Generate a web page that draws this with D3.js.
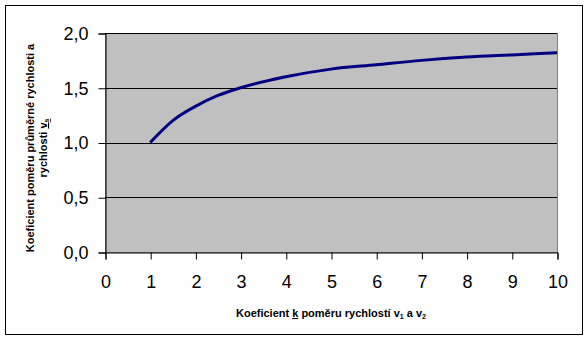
<!DOCTYPE html>
<html>
<head>
<meta charset="utf-8">
<script src="https://d3js.org/d3.v7.min.js"></script>
<style>
  body { margin: 0; background: #fff; }
  svg { display: block; font-family: Arial, "Liberation Sans", sans-serif; }
  .tick text { font-size: 18px; fill: #000; }
  .title { font-size: 11px; font-weight: bold; }
</style>
</head>
<body>
<svg width="587" height="340"></svg>
<script>
// values
const kValues = [1, 1.5, 2, 2.5, 3, 4, 5, 6, 7, 8, 9, 10];
const ratioValues = [1.00, 1.20, 1.33, 1.43, 1.50, 1.60, 1.67, 1.71, 1.75, 1.78, 1.80, 1.82];
const xTicks = [0, 1, 2, 3, 4, 5, 6, 7, 8, 9, 10];
const yTicks = [0, 0.5, 1, 1.5, 2];

const data = kValues.map((k, i) => ({ k: k, v: ratioValues[i] }));

const svg = d3.select("svg");
const plot = { left: 105, top: 33, right: 557, bottom: 252 };

svg.append("rect")
   .attr("x", 5.5).attr("y", 5.5)
   .attr("width", 577).attr("height", 329)
   .attr("fill", "#fff").attr("stroke", "#000");

const x = d3.scaleLinear().domain([0, 10]).range([plot.left, plot.right]);
const y = d3.scaleLinear().domain([0, 2]).range([plot.bottom, plot.top]);

// plot area
svg.append("rect")
   .attr("x", plot.left + 0.5).attr("y", plot.top + 0.5)
   .attr("width", plot.right - plot.left).attr("height", plot.bottom - plot.top)
   .attr("fill", "#c0c0c0").attr("stroke", "#808080");

// gridlines
svg.append("g")
   .selectAll("line")
   .data(yTicks.filter(d => d > 0))
   .enter().append("line")
   .attr("x1", plot.left).attr("x2", plot.right)
   .attr("y1", d => Math.round(y(d)) + 0.5).attr("y2", d => Math.round(y(d)) + 0.5)
   .attr("stroke", "#000");

// axes
const yAxis = svg.append("g")
   .attr("transform", `translate(${plot.left + 0.5},0.5)`)
   .call(d3.axisLeft(y).tickValues(yTicks).tickSize(7).tickPadding(10)
         .tickFormat(d => d3.format(".1f")(d).replace(".", ",")));
yAxis.select(".domain").attr("stroke", "#000");

const xAxis = svg.append("g")
   .attr("transform", `translate(0.5,${plot.bottom + 0.5})`)
   .call(d3.axisBottom(x).tickValues(xTicks).tickSize(7).tickPadding(16));
xAxis.select(".domain").attr("stroke", "#000");

svg.selectAll(".tick line").attr("stroke", "#000");

// curve
const line = d3.line()
   .x(d => x(d.k))
   .y(d => y(d.v))
   .curve(d3.curveMonotoneX);

svg.append("path")
   .datum(data)
   .attr("d", line)
   .attr("fill", "none")
   .attr("stroke", "#000080")
   .attr("stroke-width", 3);

// x title
const xt = svg.append("text")
   .attr("class", "title")
   .attr("x", (plot.left + plot.right) / 2)
   .attr("y", 317)
   .attr("text-anchor", "middle");
xt.append("tspan").text("Koeficient ");
xt.append("tspan").attr("text-decoration", "underline").text("k");
xt.append("tspan").text(" poměru rychlostí v");
xt.append("tspan").attr("font-size", "7px").attr("dy", 2).text("1");
xt.append("tspan").attr("dy", -2).text(" a v");
xt.append("tspan").attr("font-size", "7px").attr("dy", 2).text("2");

// y title
const yt = svg.append("text")
   .attr("class", "title")
   .attr("transform", "translate(34,148) rotate(-90)")
   .attr("text-anchor", "middle");
yt.append("tspan").attr("x", 0).attr("y", 0).text("Koeficient poměru průměrné rychlosti a");
const l2 = yt.append("tspan").attr("x", 0).attr("y", 13);
l2.append("tspan").text("rychlosti ");
l2.append("tspan").attr("text-decoration", "underline").text("v");
l2.append("tspan").attr("font-size", "7px").attr("dy", 2).attr("text-decoration", "underline").text("s");
</script>
</body>
</html>
